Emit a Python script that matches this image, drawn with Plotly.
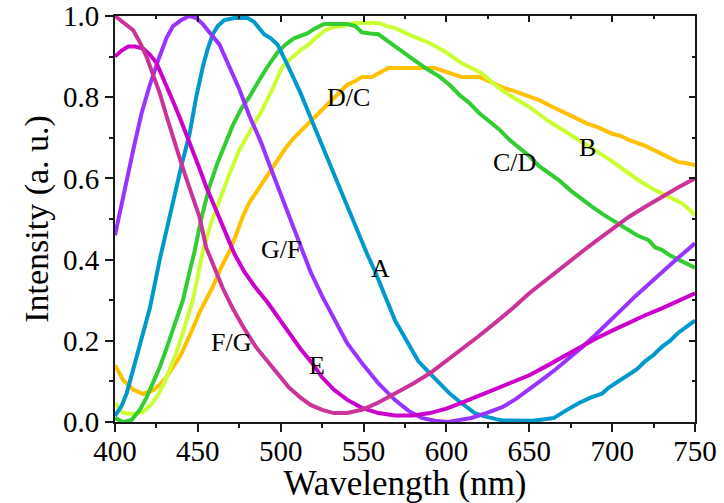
import plotly.graph_objects as go

# ---- data ----
wl_A = [400, 404, 407, 411, 415, 421, 427, 431, 435, 440, 445, 449, 453, 456, 459, 462, 466, 472, 480, 484, 487, 490, 494, 498, 504, 508, 512, 517, 522, 527, 532, 537, 542, 548, 552, 557, 563, 569, 576, 583, 590, 596, 602, 608, 613, 617, 622, 626, 630, 634, 643, 652, 658, 665, 672, 680, 687, 694, 698, 702, 706, 710, 715, 720, 725, 730, 735, 740, 745, 750]
int_A = [0.015, 0.04, 0.07, 0.13, 0.19, 0.28, 0.40, 0.47, 0.55, 0.63, 0.71, 0.80, 0.875, 0.92, 0.955, 0.975, 0.99, 0.995, 0.995, 0.985, 0.97, 0.955, 0.945, 0.93, 0.88, 0.845, 0.81, 0.76, 0.71, 0.66, 0.61, 0.56, 0.51, 0.45, 0.415, 0.37, 0.31, 0.25, 0.20, 0.15, 0.12, 0.095, 0.07, 0.05, 0.033, 0.022, 0.015, 0.01, 0.007, 0.004, 0.003, 0.003, 0.006, 0.01, 0.028, 0.047, 0.06, 0.07, 0.085, 0.095, 0.105, 0.115, 0.13, 0.15, 0.165, 0.185, 0.20, 0.22, 0.235, 0.25]

wl_purple = [400, 405, 411, 416, 421, 426, 431, 435, 440, 445, 449, 453, 458, 463, 469, 475, 481, 488, 494, 500, 506, 512, 518, 525, 532, 540, 549, 559, 569, 577, 585, 593, 601, 608, 615, 624, 634, 642, 650, 658, 666, 674, 682, 690, 698, 706, 714, 722, 730, 740, 750]
int_purple = [0.46, 0.56, 0.67, 0.76, 0.83, 0.89, 0.945, 0.975, 0.99, 1.0, 0.995, 0.98, 0.955, 0.93, 0.875, 0.82, 0.755, 0.69, 0.625, 0.56, 0.495, 0.43, 0.37, 0.31, 0.255, 0.195, 0.145, 0.095, 0.054, 0.028, 0.01, 0.003, 0.0, 0.004, 0.01, 0.022, 0.037, 0.057, 0.08, 0.105, 0.13, 0.157, 0.185, 0.215, 0.245, 0.278, 0.31, 0.34, 0.37, 0.405, 0.44]

wl_magenta = [400, 404, 408, 412, 417, 421, 425, 430, 435, 440, 445, 450, 455, 461, 467, 472, 478, 485, 492, 500, 506, 512, 519, 525, 532, 540, 549, 559, 569, 580, 590, 600, 609, 619, 629, 640, 650, 660, 670, 680, 690, 700, 710, 720, 730, 740, 750]
int_magenta = [0.90, 0.915, 0.925, 0.925, 0.92, 0.905, 0.885, 0.84, 0.79, 0.74, 0.69, 0.635, 0.58, 0.52, 0.465, 0.415, 0.37, 0.33, 0.295, 0.25, 0.215, 0.18, 0.145, 0.11, 0.08, 0.055, 0.035, 0.022, 0.016, 0.016, 0.022, 0.033, 0.047, 0.063, 0.08, 0.097, 0.115, 0.137, 0.16, 0.183, 0.205, 0.225, 0.245, 0.263, 0.28, 0.298, 0.317]

wl_pink = [400, 405, 411, 415, 419, 423, 427, 431, 435, 439, 443, 447, 451, 455, 460, 465, 471, 478, 485, 492, 499, 505, 512, 518, 525, 532, 540, 549, 559, 569, 580, 590, 600, 609, 619, 629, 640, 650, 660, 670, 682, 690, 700, 710, 720, 730, 740, 750]
int_pink = [1.0, 0.985, 0.965, 0.935, 0.90, 0.855, 0.81, 0.755, 0.70, 0.65, 0.60, 0.55, 0.505, 0.43, 0.38, 0.33, 0.28, 0.23, 0.185, 0.15, 0.115, 0.085, 0.06, 0.042, 0.03, 0.022, 0.022, 0.03, 0.048, 0.07, 0.095, 0.12, 0.15, 0.18, 0.21, 0.243, 0.28, 0.317, 0.35, 0.38, 0.42, 0.445, 0.475, 0.505, 0.53, 0.555, 0.578, 0.60]

wl_green = [400, 405, 410, 415, 419, 423, 427, 431, 436, 441, 445, 448, 452, 457, 462, 467, 471, 476, 481, 486, 492, 498, 503, 508, 516, 521, 526, 533, 540, 545, 549, 554, 559, 564, 569, 575, 581, 588, 596, 602, 608, 614, 620, 626, 632, 638, 644, 650, 656, 662, 668, 675, 682, 688, 695, 702, 708, 715, 722, 726, 730, 735, 740, 745, 750]
int_green = [0.01, 0.0, 0.005, 0.03, 0.06, 0.095, 0.135, 0.18, 0.24, 0.30, 0.37, 0.42, 0.50, 0.58, 0.64, 0.69, 0.73, 0.77, 0.80, 0.835, 0.875, 0.91, 0.93, 0.945, 0.957, 0.97, 0.98, 0.98, 0.98, 0.975, 0.96, 0.957, 0.955, 0.94, 0.925, 0.905, 0.89, 0.87, 0.85, 0.83, 0.805, 0.785, 0.76, 0.74, 0.72, 0.695, 0.675, 0.655, 0.63, 0.613, 0.595, 0.57, 0.547, 0.53, 0.51, 0.493, 0.478, 0.46, 0.448, 0.43, 0.424, 0.41, 0.40, 0.39, 0.38]

wl_B = [400, 405, 411, 417, 421, 425, 429, 433, 437, 441, 444, 447, 450, 453, 458, 463, 469, 475, 482, 489, 495, 501, 506, 512, 517, 522, 527, 532, 538, 544, 550, 559, 564, 569, 580, 590, 600, 609, 615, 621, 628, 635, 642, 650, 656, 662, 670, 678, 687, 696, 703, 710, 718, 726, 734, 742, 746, 750]
int_B = [0.047, 0.022, 0.02, 0.025, 0.04, 0.06, 0.09, 0.128, 0.17, 0.22, 0.26, 0.30, 0.36, 0.42, 0.49, 0.547, 0.61, 0.67, 0.72, 0.77, 0.82, 0.875, 0.895, 0.916, 0.93, 0.95, 0.965, 0.973, 0.975, 0.983, 0.983, 0.983, 0.975, 0.97, 0.95, 0.933, 0.91, 0.884, 0.872, 0.86, 0.835, 0.813, 0.795, 0.776, 0.758, 0.74, 0.72, 0.70, 0.675, 0.653, 0.633, 0.613, 0.59, 0.571, 0.555, 0.539, 0.525, 0.51]

wl_orange = [400, 405, 411, 417, 423, 427, 431, 435, 439, 442, 445, 448, 451, 455, 459, 464, 469, 473, 477, 481, 486, 492, 498, 503, 508, 514, 520, 526, 532, 536, 540, 545, 549, 555, 560, 565, 575, 585, 593, 598, 602, 609, 615, 620, 628, 635, 641, 648, 656, 662, 670, 678, 685, 692, 700, 705, 710, 720, 730, 740, 744, 750]
int_orange = [0.14, 0.103, 0.08, 0.069, 0.078, 0.092, 0.11, 0.135, 0.16, 0.185, 0.21, 0.24, 0.27, 0.30, 0.333, 0.38, 0.42, 0.46, 0.505, 0.54, 0.57, 0.61, 0.645, 0.675, 0.70, 0.725, 0.75, 0.775, 0.80, 0.815, 0.83, 0.84, 0.85, 0.85, 0.862, 0.872, 0.872, 0.872, 0.872, 0.865, 0.86, 0.85, 0.85, 0.85, 0.835, 0.822, 0.815, 0.805, 0.793, 0.78, 0.765, 0.75, 0.735, 0.725, 0.71, 0.705, 0.695, 0.68, 0.66, 0.64, 0.638, 0.633]

curve_labels = ["D/C", "C/D", "B", "G/F", "A", "F/G", "E"]
label_x = [541, 641, 685, 500, 560, 470, 522]
label_y = [0.80, 0.638, 0.677, 0.426, 0.377, 0.197, 0.138]

x_ticks = [400, 450, 500, 550, 600, 650, 700, 750]
y_ticks = [0.0, 0.2, 0.4, 0.6, 0.8, 1.0]

# ---- figure ----
series = [
    (wl_orange, int_orange, "#ffc000"),
    (wl_B, int_B, "#ccff33"),
    (wl_green, int_green, "#33cc33"),
    (wl_A, int_A, "#0099cc"),
    (wl_purple, int_purple, "#9933ff"),
    (wl_magenta, int_magenta, "#cc00cc"),
    (wl_pink, int_pink, "#cc3399"),
]

fig = go.Figure()
for xs, ys, col in series:
    fig.add_trace(go.Scatter(x=xs, y=ys, mode="lines",
                             line=dict(color=col, width=4),
                             showlegend=False, hoverinfo="skip"))

# invisible trace to activate mirrored (top/right) axes
fig.add_trace(go.Scatter(x=[400], y=[0], xaxis="x2", yaxis="y2", mode="lines",
                         line=dict(width=0), showlegend=False, hoverinfo="skip"))

FONT = "Liberation Serif, Times New Roman, serif"
for txt, lx, ly in zip(curve_labels, label_x, label_y):
    fig.add_annotation(x=lx, y=ly, text=txt, showarrow=False,
                       font=dict(family=FONT, size=26, color="black"))

axis_common = dict(showline=True, linewidth=2, linecolor="#1a1a1a",
                   showgrid=False, zeroline=False, automargin=False,
                   ticklabeloverflow="allow")

fig.update_layout(
    width=724, height=503,
    margin=dict(l=115, r=29, t=16, b=81),
    paper_bgcolor="white", plot_bgcolor="white",
    font=dict(family=FONT, color="black"),
    xaxis=dict(range=[400, 750], tickvals=x_ticks, ticks="outside",
               ticklen=8, tickwidth=2, tickcolor="#1a1a1a", ticklabelstandoff=-6,
               minor=dict(dtick=25, tick0=400, ticks="outside", ticklen=4, tickwidth=2, tickcolor="#1a1a1a"),
               tickfont=dict(size=29), title=dict(text="Wavelength (nm)", font=dict(size=35), standoff=0),
               **axis_common),
    yaxis=dict(range=[0, 1.0], tickvals=y_ticks, tickformat=".1f", ticks="outside",
               ticklen=8, tickwidth=2, tickcolor="#1a1a1a",
               minor=dict(dtick=0.1, tick0=0, ticks="outside", ticklen=4, tickwidth=2, tickcolor="#1a1a1a"),
               tickfont=dict(size=29), title=dict(text="Intensity (a. u.)", font=dict(size=34), standoff=4),
               **axis_common),
    xaxis2=dict(range=[400, 750], overlaying="x", side="top", tickvals=x_ticks,
                ticks="inside", ticklen=6, tickwidth=2, tickcolor="#1a1a1a", showticklabels=False,
                minor=dict(dtick=25, tick0=400, ticks="inside", ticklen=3, tickwidth=2, tickcolor="#1a1a1a"),
                **axis_common),
    yaxis2=dict(range=[0, 1.0], overlaying="y", side="right", tickvals=y_ticks,
                ticks="inside", ticklen=6, tickwidth=2, tickcolor="#1a1a1a", showticklabels=False,
                minor=dict(dtick=0.1, tick0=0, ticks="inside", ticklen=3, tickwidth=2, tickcolor="#1a1a1a"),
                **axis_common),
)

fig.write_html("out.html", config={"displayModeBar": False})

# remove the default page margin so the figure fills the window exactly
with open("out.html", "r", encoding="utf-8") as f:
    html = f.read()
html = html.replace("<head>", "<head><style>html,body{margin:0;padding:0;overflow:hidden;}</style>", 1)
with open("out.html", "w", encoding="utf-8") as f:
    f.write(html)
